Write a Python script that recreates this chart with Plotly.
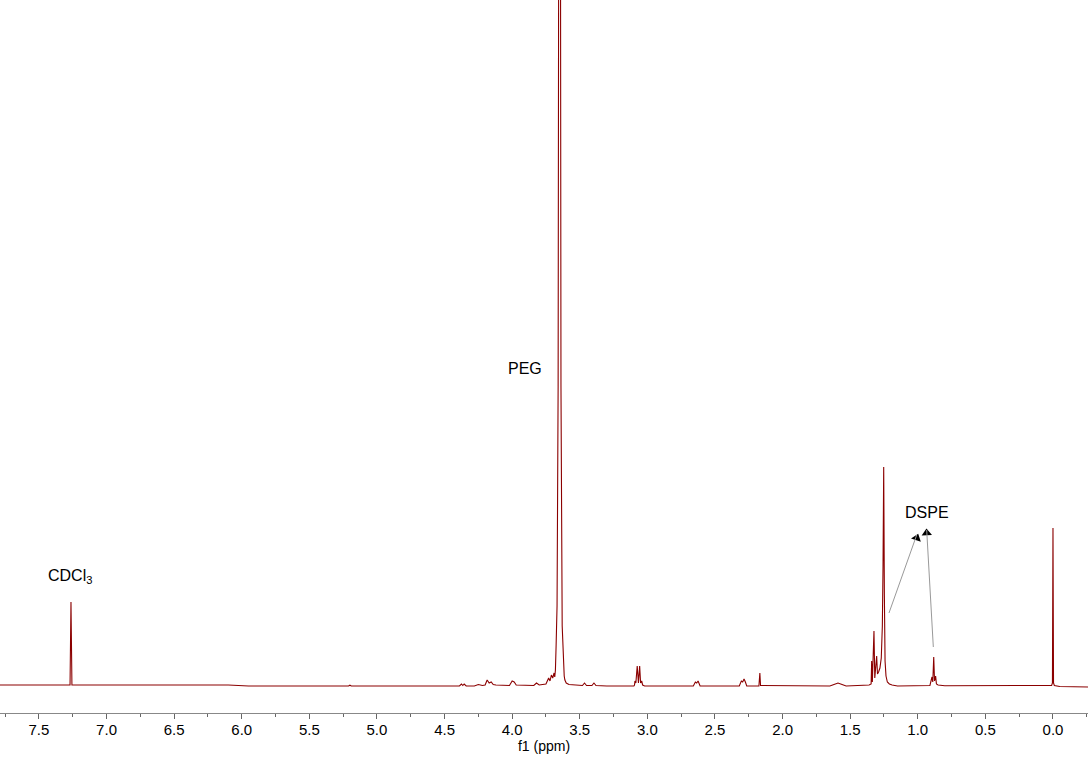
import math
import plotly.graph_objects as go

# Spectrum trace: chemical shift (ppm) and intensity (arbitrary, baseline = 0)
ppm = [
    7.79, 7.30, 7.27, 7.263, 7.256, 6.10, 5.95, 5.21, 5.20, 5.19,
    4.45, 4.39, 4.375, 4.365, 4.355, 4.34, 4.28, 4.25, 4.22, 4.20,
    4.185, 4.17, 4.155, 4.14, 4.12, 4.02, 4.00, 3.985, 3.97, 3.84,
    3.82, 3.80, 3.75, 3.73, 3.72, 3.71, 3.70, 3.69, 3.685, 3.68,
    3.675, 3.668, 3.660, 3.652, 3.646, 3.639, 3.630, 3.622, 3.615, 3.61,
    3.60, 3.58, 3.55, 3.48, 3.465, 3.45, 3.41, 3.395, 3.38, 3.30,
    3.10, 3.095, 3.092, 3.085, 3.075, 3.066, 3.057, 3.05, 3.042, 3.035,
    3.02, 2.66, 2.645, 2.635, 2.625, 2.61, 2.32, 2.305, 2.295, 2.285,
    2.275, 2.265, 2.175, 2.168, 2.163, 1.65, 1.62, 1.59, 1.56, 1.53,
    1.36, 1.345, 1.341, 1.336, 1.324, 1.318, 1.304, 1.298, 1.29, 1.28,
    1.27, 1.262, 1.257, 1.252, 1.247, 1.242, 1.235, 1.225, 1.21, 1.19,
    1.15, 0.91, 0.895, 0.889, 0.882, 0.876, 0.868, 0.862, 0.85, 0.80,
    0.01, 0.004, 0.0, -0.004, -0.01, -0.05, -0.259,
]
intensity = [
    1, 1, 1, 84, 1, 1, 0, 0, 0.8, 0,
    0, 0, 2, 0.5, 2, 0, 0, 1.5, 0.5, 1,
    6, 3, 4, 1.5, 1, 0.5, 5, 4, 1, 0.5,
    3, 1, 2, 8, 5, 11, 8, 13, 9, 16,
    40, 80, 300, 1200, 1200, 300, 60, 19, 10, 6,
    3, 1.5, 1, 0.5, 3, 0.5, 0.5, 3, 0.5, 0,
    0, 1, 5, 3, 20, 3, 20, 3, 5, 1,
    0, 0, 4, 3, 5, 0, 0, 5, 4, 7,
    4, 0, 0, 13, 0.5, 0, 1.5, 3, 1.5, 0,
    1, 2, 25, 4, 55, 8, 30, 12, 14, 18,
    28, 60, 120, 219, 90, 25, 10, 4, 2, 1,
    0, 0.5, 9, 4, 29, 5, 10, 2, 1, 0.3,
    0.5, 3, 158, 3, 0.5, -0.5, -1,
]

# Labels (text, ppm, intensity)
label_texts = ["CDCl<sub>3</sub>", "PEG", "DSPE"]
label_ppm = [7.271, 3.905, 0.934]
label_int = [110, 318, 174]

# DSPE arrows: tail (ppm, intensity) -> head (ppm, intensity)
arrow_tail_ppm = [1.213, 0.885]
arrow_tail_int = [73, 39]
arrow_head_ppm = [1.008, 0.934]
arrow_head_int = [151, 156]

FONT = "Arial, Liberation Sans, sans-serif"
X_RANGE = [7.788, -0.259]
Y_RANGE = [-27, 686]
W, H = 1088, 759
MB = 46

fig = go.Figure()
fig.add_trace(go.Scatter(
    x=ppm, y=intensity, mode="lines",
    line=dict(color="#8b0000", width=1.1),
    hoverinfo="skip", showlegend=False,
))

for t, xp, yi in zip(label_texts, label_ppm, label_int):
    fig.add_annotation(x=xp, y=yi, text=t, showarrow=False,
                       font=dict(family=FONT, size=16, color="#000000"))

# arrow shafts (grey) and heads (black triangles rotated along the shaft)
px_per_ppm = W / (X_RANGE[0] - X_RANGE[1])
px_per_int = (H - MB) / (Y_RANGE[1] - Y_RANGE[0])
angles = []
for tx, ty, hx, hy in zip(arrow_tail_ppm, arrow_tail_int, arrow_head_ppm, arrow_head_int):
    fig.add_shape(type="line", x0=tx, y0=ty, x1=hx, y1=hy,
                  line=dict(color="#999999", width=1))
    dx = (tx - hx) * px_per_ppm       # screen right is positive
    dy = (hy - ty) * px_per_int       # screen up is positive
    angles.append(math.degrees(math.atan2(dx, dy)))

fig.add_trace(go.Scatter(
    x=arrow_head_ppm, y=[v - 3 for v in arrow_head_int], mode="markers",
    marker=dict(symbol="triangle-up", size=9, color="#000000", angle=angles,
                line=dict(width=0)),
    hoverinfo="skip", showlegend=False,
))

fig.update_layout(
    width=W, height=H,
    margin=dict(l=0, r=0, t=0, b=MB),
    paper_bgcolor="white", plot_bgcolor="white",
    font=dict(family=FONT, size=14, color="#000000"),
    xaxis=dict(
        range=X_RANGE,
        tickmode="linear", tick0=0, dtick=0.5, tickformat=".1f",
        ticks="outside", ticklen=5, tickwidth=1, tickcolor="#666666",
        minor=dict(ticks="outside", ticklen=3, dtick=0.25, tickcolor="#666666", showgrid=False),
        showline=True, linecolor="#888888", linewidth=1,
        showgrid=False, zeroline=False,
        ticklabelstandoff=-2,
        tickfont=dict(family=FONT, size=15, color="#000000"),
        title=dict(text="f1 (ppm)", standoff=3,
                   font=dict(family=FONT, size=14, color="#000000")),
    ),
    yaxis=dict(range=Y_RANGE, visible=False, showgrid=False, zeroline=False),
)

fig.write_html("out.html", config={"displayModeBar": False},
               post_script="document.body.style.margin='0px';document.body.style.overflow='hidden';")
